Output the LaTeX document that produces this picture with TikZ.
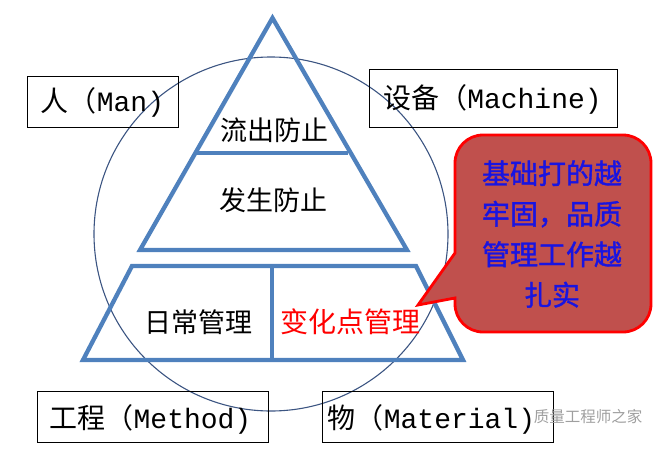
\documentclass[tikz,border=0pt]{standalone}
\usepackage{fontspec}
\setmainfont{Liberation Mono}
\newfontfamily\cjk{Noto Sans CJK SC}
\newfontfamily\cjkbold[FakeBold=1.3]{Noto Sans CJK SC}

\definecolor{pyrblue}{RGB}{79,129,189}
\definecolor{ringblue}{RGB}{60,85,130}
\definecolor{calloutred}{RGB}{192,80,77}
\definecolor{adviceblue}{RGB}{25,20,225}

\begin{document}
\begin{tikzpicture}[x=1pt, y=-1pt,
    pyr/.style={draw=pyrblue, line width=4.3pt, line join=miter},
    ring/.style={draw=ringblue, line width=1.1pt},
    mbox/.style={draw=black, line width=1pt},
    boxtext/.style={inner sep=0pt, font=\fontsize{28}{30}\selectfont},
    lbl/.style={inner sep=0pt, font=\cjk\fontsize{27}{30}\selectfont},
    callout/.style={draw=red, line width=2.8pt, fill=calloutred, line join=miter},
    wmark/.style={inner sep=0pt, text=gray!75, font=\cjk\fontsize{15.5}{18}\selectfont}]
    \useasboundingbox (0,0) rectangle (664,450);

    % Circle of the four factors
    \draw[ring] (271,234) circle [radius=177pt];

    % Upper triangle
    \draw[pyr] (140,250) -- (272.5,18) -- (407,250) -- cycle;
    \draw[pyr] (197,153) -- (348,153);
    \node[lbl] (outflow) at (274,130) {流出防止};
    \node[lbl] (occur) at (273,200) {发生防止};

    % Base trapezoid
    \draw[pyr] (132,266) -- (416,266) -- (463,360) -- (83,360) -- cycle;
    \draw[pyr] (272,266) -- (272,360);
    \node[lbl] (daily) at (198,322) {日常管理};
    \node[lbl, text=red, font=\cjk\fontsize{28}{30}\selectfont] (change) at (350,322) {变化点管理};

    % 4M boxes
    \draw[mbox] (27,76) rectangle (178,127);
    \node[boxtext] (man) at (102.5,102) {{\cjk 人（}Man)};
    \draw[mbox] (369,69) rectangle (617,127);
    \node[boxtext] (machine) at (492.5,99) {{\cjk 设备（}Machine)};
    \draw[mbox] (37,391) rectangle (268,442);
    \node[boxtext] (method) at (150.5,419) {{\cjk 工程（}Method)};
    \draw[mbox] (322,391) rectangle (553,442);
    \node[boxtext] (material) at (431.5,419) {{\cjk 物（}Material)};

    % Callout
    \draw[callout] (455,253) [rounded corners=28pt] -- (455,135) -- (651,135) -- (651,332)
        -- (455,332) [sharp corners] -- (455,298) -- (418,305) -- cycle;
    \node[align=center, text=adviceblue, inner sep=0pt,
          font=\cjkbold\fontsize{28}{40.5}\selectfont] (advice) at (552,234)
        {基础打的越\\牢固，品质\\管理工作越\\扎实};

    % Watermark
    \node[wmark] (watermark) at (588,417) {质量工程师之家};
\end{tikzpicture}
\end{document}
